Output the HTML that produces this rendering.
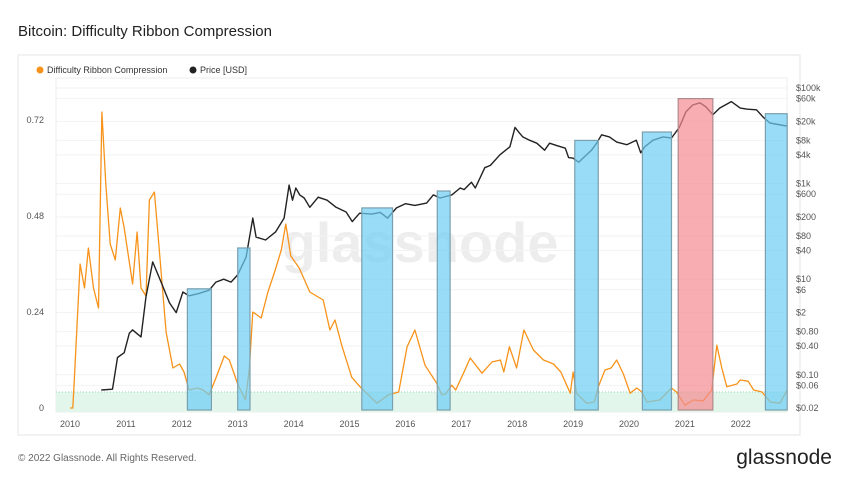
<!DOCTYPE html>
<html><head><meta charset="utf-8"><style>
body{margin:0;background:#fff;font-family:"Liberation Sans",sans-serif;}
svg text{font-family:"Liberation Sans",sans-serif;}
</style></head><body>
<svg id="c" width="850" height="478" xmlns="http://www.w3.org/2000/svg">
<text x="18" y="36" font-size="15" fill="#222">Bitcoin: Difficulty Ribbon Compression</text>
<rect x="18" y="55" width="782" height="380" fill="none" stroke="#e6e6e6"/>
<g>
<circle cx="40" cy="70" r="3.5" fill="#f7931a"/>
<text x="47" y="73" font-size="9" fill="#333">Difficulty Ribbon Compression</text>
<circle cx="193" cy="70" r="3.5" fill="#222"/>
<text x="200" y="73" font-size="9" fill="#333">Price [USD]</text>
</g>
<text x="420" y="262" font-size="56" fill="#000" fill-opacity="0.07" text-anchor="middle" font-weight="bold">glassnode</text>
<g id="grid"></g><g id="lines"></g><g id="boxes"></g><g id="axes"></g>
<text x="18" y="461" font-size="10" fill="#666">© 2022 Glassnode. All Rights Reserved.</text>
<text x="832" y="464" font-size="21" fill="#222" text-anchor="end">glassnode</text>
</svg>
<script>
const years=[2010,2011,2012,2013,2014,2015,2016,2017,2018,2019,2020,2021,2022];
const leftTicks=[0,0.24,0.48,0.72];
const rightTicks=[0.02,0.06,0.1,0.4,0.8,2,6,10,40,80,200,600,1000,4000,8000,20000,60000,100000];
const rightLabels=["$0.02","$0.06","$0.10","$0.40","$0.80","$2","$6","$10","$40","$80","$200","$600","$1k","$4k","$8k","$20k","$60k","$100k"];
const priceT=[2010.56,2010.76,2010.85,2010.97,2011.06,2011.12,2011.27,2011.36,2011.45,2011.48,2011.63,2011.78,2011.9,2012.02,2012.13,2012.3,2012.49,2012.61,2012.75,2012.88,2013.0,2013.15,2013.27,2013.33,2013.5,2013.68,2013.83,2013.92,2013.98,2014.04,2014.11,2014.19,2014.29,2014.44,2014.6,2014.76,2014.94,2015.05,2015.18,2015.4,2015.55,2015.68,2015.84,2016.0,2016.17,2016.38,2016.5,2016.62,2016.83,2016.98,2017.05,2017.18,2017.25,2017.42,2017.52,2017.69,2017.87,2017.96,2018.04,2018.1,2018.22,2018.35,2018.49,2018.58,2018.7,2018.86,2018.92,2019.0,2019.1,2019.22,2019.33,2019.42,2019.51,2019.65,2019.78,2019.96,2020.13,2020.21,2020.28,2020.43,2020.61,2020.76,2020.9,2021.02,2021.14,2021.27,2021.38,2021.5,2021.62,2021.83,2021.99,2022.12,2022.28,2022.4,2022.52,2022.82];
const priceV=[0.048,0.05,0.23,0.29,0.74,0.87,0.62,4.3,15.5,23,8.7,3.2,2,5.4,4.5,5,5.9,8.7,10,8.7,12.3,29,190,76,66,98,190,930,450,810,580,500,320,520,450,320,255,160,240,230,250,190,310,380,350,390,580,500,580,810,750,1070,810,2150,2400,4000,5900,15000,11500,9500,8100,7000,5000,7000,6300,5500,3500,3400,2800,3800,5000,7000,10500,9500,7400,6500,8100,4400,5900,8100,9500,9000,15000,32000,44000,49000,40000,27500,38000,52000,38000,36000,35000,24500,18500,16000];
const drcT=[2010.0,2010.05,2010.08,2010.18,2010.26,2010.33,2010.42,2010.51,2010.57,2010.64,2010.72,2010.81,2010.9,2010.97,2011.12,2011.2,2011.27,2011.36,2011.42,2011.51,2011.57,2011.72,2011.84,2011.96,2012.04,2012.13,2012.28,2012.38,2012.49,2012.61,2012.76,2012.85,2013.0,2013.14,2013.21,2013.27,2013.42,2013.54,2013.66,2013.78,2013.86,2013.95,2014.1,2014.29,2014.53,2014.65,2014.74,2014.86,2015.04,2015.19,2015.49,2015.7,2015.88,2016.03,2016.17,2016.35,2016.56,2016.65,2016.72,2016.83,2016.9,2017.04,2017.16,2017.37,2017.55,2017.7,2017.76,2017.86,2017.99,2018.12,2018.29,2018.47,2018.65,2018.78,2018.95,2019.0,2019.06,2019.24,2019.38,2019.45,2019.57,2019.68,2019.78,2019.9,2020.02,2020.14,2020.23,2020.32,2020.55,2020.76,2020.85,2021.0,2021.15,2021.33,2021.48,2021.57,2021.66,2021.75,2021.93,2021.99,2022.13,2022.23,2022.38,2022.53,2022.7,2022.83];
const drcV=[0,0,0.08,0.36,0.3,0.4,0.3,0.25,0.74,0.56,0.41,0.37,0.5,0.45,0.31,0.44,0.3,0.28,0.52,0.54,0.44,0.19,0.1,0.11,0.09,0.045,0.05,0.045,0.033,0.075,0.13,0.12,0.06,0.02,0.1,0.24,0.225,0.29,0.34,0.395,0.46,0.38,0.35,0.29,0.27,0.195,0.22,0.157,0.077,0.053,0.012,0.033,0.04,0.153,0.195,0.107,0.062,0.033,0.035,0.057,0.045,0.087,0.125,0.087,0.115,0.12,0.09,0.153,0.1,0.195,0.145,0.12,0.11,0.09,0.037,0.09,0.037,0.012,0.015,0.053,0.095,0.1,0.12,0.085,0.037,0.05,0.04,0.015,0.02,0.05,0.04,0.007,0.02,0.018,0.045,0.157,0.1,0.053,0.06,0.07,0.067,0.045,0.04,0.015,0.012,0.045];
const boxStart=[2012.1,2013.0,2015.22,2016.57,2019.03,2020.24,2020.88,2022.44];
const boxEnd=[2012.53,2013.22,2015.77,2016.8,2019.45,2020.76,2021.5,2022.83];
const boxTop=[6.3,45,310,700,8000,12000,60000,29000];
const boxRed=[0,0,0,0,0,0,1,0];
const X0=56,X1=787,Y0=78,YB=410;
const x=t=>70+(t-2010)*55.9;
const yL=v=>408-v*400;
const yP=p=>88+(5-Math.log10(p))*47.8;
const NS="http://www.w3.org/2000/svg";
function mk(g,tag,a){const e=document.createElementNS(NS,tag);for(const k in a)e.setAttribute(k,a[k]);document.getElementById(g).appendChild(e);return e;}
let e;
e=mk('grid','rect',{x:X0,y:Y0,width:X1-X0,height:334,fill:'none',stroke:'#eee'});


rightTicks.forEach(p=>{e=mk('grid','line',{x1:X0,x2:X1,y1:yP(p),y2:yP(p),stroke:'#f2f2f2'});

});
e=mk('grid','rect',{x:X0,y:yL(0.04),width:X1-X0,height:412-yL(0.04),fill:'#e3f6ec'});


e=mk('grid','line',{x1:X0,x2:X1,y1:yL(0.04),y2:yL(0.04),stroke:'#8fd9b0','stroke-dasharray':'1,2'});


e=mk('lines','path',{d:drcT.map((t,i)=>(i?'L':'M')+x(t).toFixed(1)+','+yL(drcV[i]).toFixed(1)).join(''),fill:'none',stroke:'#f7931a','stroke-width':1.3,'stroke-linejoin':'round'});


e=mk('lines','path',{d:priceT.map((t,i)=>(i?'L':'M')+x(t).toFixed(1)+','+yP(priceV[i]).toFixed(1)).join(''),fill:'none',stroke:'#222','stroke-width':1.4,'stroke-linejoin':'round'});


boxStart.forEach((s,i)=>{const r=boxRed[i];
e=mk('boxes','rect',{x:x(s),y:yP(boxTop[i]),width:x(boxEnd[i])-x(s),height:YB-yP(boxTop[i]),fill:r?'#f48a90':'#6ccdf5','fill-opacity':0.7,stroke:r?'#b08a8c':'#7a9fae','stroke-width':1.2});

});
years.forEach(yr=>{e=mk('axes','text',{x:x(yr),y:427,'font-size':9,fill:'#555','text-anchor':'middle'});e.textContent=yr;

});
leftTicks.forEach(v=>{e=mk('axes','text',{x:44,y:yL(v)+3,'font-size':9,fill:'#555','text-anchor':'end'});e.textContent=v;

});
rightTicks.forEach((p,i)=>{e=mk('axes','text',{x:796,y:yP(p)+3,'font-size':9,fill:'#555'});e.textContent=rightLabels[i];

});
</script>
</body></html>
